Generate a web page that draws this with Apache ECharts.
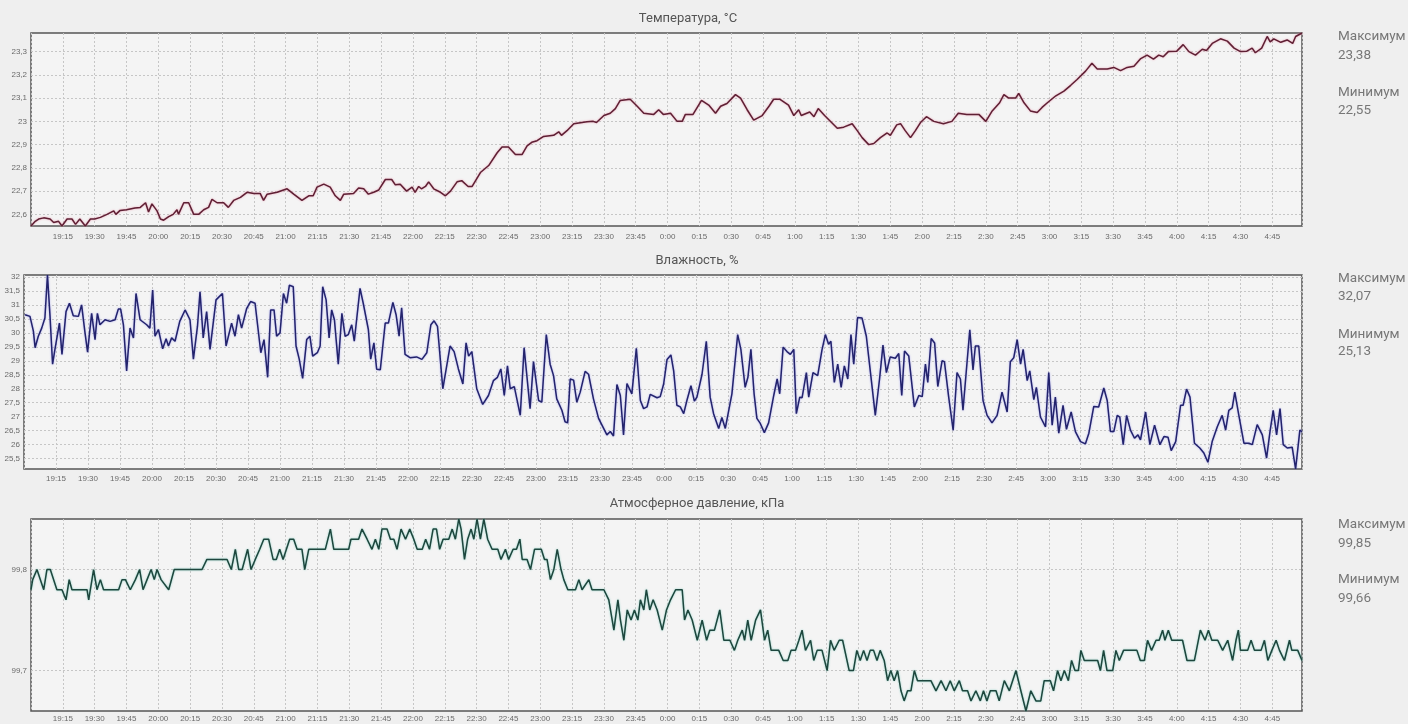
<!DOCTYPE html>
<html><head><meta charset="utf-8">
<script src="https://cdn.jsdelivr.net/npm/echarts@6/dist/echarts.min.js"></script>
<style>html,body{margin:0;padding:0;background:#efefef}#c{width:1408px;height:724px}</style>
</head><body><div id="c"></div>
<script>
// time = minutes after 19:00
const temperature = [[0,22.55],[2,22.57],[3.6,22.58],[6,22.585],[9,22.58],[10.7,22.565],[13,22.57],[14.6,22.55],[17,22.58],[19.3,22.58],[21,22.557],[23,22.58],[25.6,22.55],[28,22.58],[30,22.58],[32.7,22.587],[35.8,22.6],[39,22.615],[40,22.6],[42,22.617],[45,22.62],[49,22.627],[51.5,22.63],[54,22.65],[55.4,22.61],[57,22.645],[59.4,22.615],[61,22.58],[62.5,22.575],[64.9,22.59],[67,22.6],[68.8,22.62],[69.5,22.6],[72,22.65],[74.3,22.65],[76.7,22.6],[79,22.6],[81.4,22.62],[83.7,22.63],[85.3,22.665],[87.7,22.65],[90.8,22.65],[93,22.63],[95.5,22.66],[98.7,22.673],[101.8,22.695],[105,22.69],[108,22.69],[109.6,22.66],[111.3,22.687],[116,22.695],[120.7,22.71],[123.8,22.687],[127.7,22.66],[130.9,22.68],[133,22.68],[134.8,22.717],[138,22.73],[141,22.717],[143.4,22.68],[145.8,22.66],[147.4,22.687],[152,22.69],[154.4,22.713],[156.8,22.71],[159,22.687],[161.5,22.695],[163.9,22.705],[167,22.75],[170,22.75],[171.7,22.727],[174,22.73],[177,22.7],[179.6,22.717],[181,22.695],[182.7,22.72],[184,22.71],[185.9,22.72],[187.4,22.74],[189.8,22.71],[193,22.695],[195.3,22.68],[197.7,22.7],[200.8,22.74],[203,22.745],[206,22.72],[207.9,22.72],[211.8,22.78],[215.7,22.81],[219.7,22.865],[222,22.89],[225,22.89],[228.3,22.857],[231.4,22.857],[233.8,22.895],[236,22.91],[238.5,22.917],[241.6,22.935],[246.3,22.94],[248.7,22.955],[250,22.94],[252.6,22.96],[255.8,22.99],[262,22.998],[265,23],[266.5,22.995],[270,23.025],[273,23.035],[275.4,23.055],[277.7,23.09],[282.4,23.095],[285.7,23.065],[288.8,23.035],[293.5,23.03],[295.8,23.05],[298,23.03],[301.4,23.035],[304.5,23],[306.9,23],[308.4,23.03],[312,23.03],[316,23.09],[319.4,23.07],[322.6,23.035],[325,23.065],[328,23.077],[332,23.115],[334.4,23.1],[337.5,23.05],[340.6,23.005],[344.6,23.025],[347.8,23.065],[350,23.095],[353,23.095],[357,23.07],[359.5,23.025],[361.8,23.05],[363,23.025],[367,23.04],[369,23.02],[371,23.055],[374,23.025],[380,22.97],[383,22.975],[387,22.99],[389.4,22.96],[391.7,22.93],[394.8,22.9],[397.2,22.905],[400.3,22.93],[403.5,22.95],[405,22.94],[408,22.985],[409.8,22.99],[412,22.96],[414.5,22.93],[416.8,22.96],[419.2,22.995],[422,23.02],[425.5,23],[430,22.99],[434,23],[437,23.035],[441,23.03],[446.7,23.03],[450,23],[453,23.045],[456.5,23.08],[458.5,23.115],[460.8,23.1],[464,23.1],[465.5,23.12],[468,23.08],[471,23.045],[474.2,23.038],[476.5,23.06],[479,23.08],[483,23.11],[486.8,23.13],[490,23.155],[493,23.18],[497,23.216],[500,23.25],[502.5,23.225],[507.2,23.225],[510.3,23.232],[513.5,23.218],[516.6,23.232],[519.8,23.237],[523,23.27],[526,23.285],[529,23.268],[531.5,23.285],[533.6,23.278],[536,23.3],[540,23.302],[543,23.33],[545.7,23.3],[548.8,23.285],[552,23.31],[554,23.305],[556.7,23.335],[560.6,23.355],[563.8,23.345],[567,23.315],[570,23.3],[573,23.302],[575.5,23.315],[577,23.295],[580,23.315],[582.6,23.365],[584,23.342],[585.7,23.355],[589,23.34],[592,23.35],[594.6,23.335],[596,23.365],[599,23.38]];

const humidity = [[0.5,30.65],[2.8,30.59],[4.4,30.06],[5.2,29.47],[6.7,29.88],[8.3,30.17],[9.8,30.53],[11,32.07],[12.2,30.59],[13.4,28.88],[14.5,29.41],[16.6,30.35],[17.8,29.23],[19.7,30.76],[21.3,31.06],[23.1,30.61],[25.5,30.59],[27,31],[28.6,30],[29.8,29.31],[31.7,30.7],[33.3,29.76],[34.4,30.7],[35.6,30.29],[38,30.47],[40.3,30.41],[42.7,30.47],[44.2,30.85],[45.3,30.85],[46.6,30.29],[48.1,28.64],[49.7,30.17],[51.3,29.82],[52.5,31.41],[54.4,30.47],[57.5,30.29],[59,30.17],[60.3,31.53],[61.4,29.88],[63,30.12],[65,29.43],[66.6,29.79],[67.7,29.53],[69.2,29.82],[70.8,29.7],[73,30.41],[75.5,30.82],[77.8,30.47],[79.4,29.06],[81.3,30.23],[82.5,31.47],[84,29.82],[85.6,30.76],[87.2,29.41],[90,31.18],[93,31.41],[94.7,29.53],[97.3,30.35],[98.9,29.88],[100.5,30.65],[102,30.17],[104.4,30.88],[106.2,31.12],[108.3,31.06],[111,29.29],[112.5,29.76],[114.2,28.41],[115.6,30.82],[117.2,30.82],[118.4,29.88],[120,30],[121.6,31.41],[123.1,31.06],[124.4,31.71],[126.2,31.65],[127.5,29.53],[129,29.06],[130.6,28.37],[132.5,29.76],[134,29.88],[135.3,29.17],[137.5,29.29],[138.8,29.53],[140,31.65],[141.6,31.18],[143,29.82],[144.2,30.82],[145.5,30.47],[147.3,28.88],[149,30.7],[150.5,29.88],[152,29.94],[153.6,30.29],[154.8,29.7],[157.5,31.59],[159,31.06],[161.4,30.12],[162.5,29.06],[164,29.64],[165.3,28.7],[167,28.68],[169.3,30.35],[170.8,30.35],[172.9,31.09],[174.4,30.65],[175.8,29.88],[177,30.9],[178.6,29.23],[180.9,29.11],[184,29.14],[186.5,29.05],[188.8,29.29],[190.7,30.29],[192.2,30.43],[193.8,30.23],[196.3,28],[199.7,29.53],[201.6,29.33],[203.6,28.71],[205.7,28.17],[207.2,29.64],[208.4,29.17],[209.9,29.33],[212.2,28],[215,27.44],[217.7,27.76],[220,28.29],[221.9,28.41],[223.5,28.71],[225.1,27.76],[226.6,28.82],[227.9,28],[229.8,28.08],[232.6,27.05],[234.4,29.47],[237.2,27.29],[238.8,28.97],[241.2,27.58],[242.7,27.52],[244.8,29.94],[246.6,28.88],[248.2,28.47],[249.7,27.64],[252.1,27.23],[253.6,26.82],[254.8,26.78],[256,28.35],[257.6,28.31],[259.1,27.52],[260.7,27.88],[263,28.62],[264.6,28.52],[266.9,27.64],[269.3,26.94],[270.9,26.7],[273.2,26.35],[274.8,26.47],[276.3,26.31],[277.9,28.15],[279.5,27.76],[281,26.35],[282.6,28.19],[284.9,27.82],[287,29.45],[288.9,27.58],[290.4,27.29],[292,27.35],[293.5,27.8],[296.7,27.68],[298.2,27.72],[299.8,28.17],[301.4,29.05],[303.2,29.21],[304.5,28.64],[306,27.41],[307.6,27.35],[309.2,27.11],[310.7,27.58],[312.6,28.11],[314.2,27.56],[315.4,27.7],[317.8,28.52],[319.8,29.7],[321.6,27.7],[323.2,27.11],[325.6,26.58],[327.1,26.97],[328.7,26.58],[331.8,27.82],[334.5,29.94],[336,29.41],[338,28.05],[339.3,28.41],[340.7,29.41],[342.2,27.82],[343.5,26.94],[345.1,26.76],[347,26.43],[349,26.78],[351.4,27.76],[353,28.35],[354.2,27.82],[355.8,29.49],[357.6,29.33],[359.2,29.23],[360.8,29.41],[362,27.11],[363.6,27.7],[364.7,27.68],[366.7,28.58],[367.8,27.7],[369.8,28.58],[372,28.47],[374,29.38],[375.6,29.94],[377.1,29.59],[378.2,29.7],[379.8,28.23],[381.4,28.88],[383,28.05],[384.5,28.82],[386.1,28.35],[387.6,29.94],[388.9,28.88],[390.7,30.55],[392.8,30.53],[394.8,29.88],[397,28.41],[399,27.05],[401,28.35],[402.6,29.56],[404.2,28.58],[406,29.14],[408.4,29.09],[410,29.26],[411.4,27.76],[412.7,29.35],[414.7,29.17],[417.3,27.35],[419.4,27.76],[421,27.72],[422.5,28.88],[423.6,28.23],[425.2,29.8],[426.8,29.64],[428.3,28.08],[430.3,29],[431.4,28.97],[433.4,27.7],[435.5,26.52],[437.3,28.58],[438.9,28.35],[440.1,27.23],[443.3,30.11],[444.8,28.67],[445.9,29.53],[447.5,29.53],[449.5,27.58],[451.4,27.05],[453.7,26.78],[456.1,27.05],[458.4,27.88],[460.8,27.17],[462.3,28.97],[463.9,29.11],[465.5,29.76],[467.1,28.88],[468.3,29.41],[470.2,28.29],[471.4,28.64],[473.3,27.61],[474.5,28.05],[476.4,26.99],[478.8,26.64],[480.3,28.58],[481.9,26.7],[483.4,27.7],[485,26.41],[487,27.41],[488.6,26.55],[490.8,27.17],[492.8,26.47],[495.2,26.11],[497.5,26.03],[499.1,26.41],[501.4,27.37],[503.7,27.35],[506.1,28.03],[507.7,27.58],[509.2,26.47],[510.8,26.47],[512.4,27.05],[513.6,26.99],[515.2,26],[516.8,27.05],[518.6,26.52],[520.5,26.23],[522.1,26.35],[523.3,26.17],[525.7,27.17],[527.7,26],[529.9,26.7],[532.4,26],[534.3,26.29],[536.2,26.27],[537.7,25.79],[539.8,26.11],[542.1,27.41],[543.3,27.41],[544.9,27.99],[546.5,27.7],[548.6,26.05],[551.1,25.88],[553,25.7],[554.9,25.37],[556.9,26.11],[559.3,26.64],[561.6,27.05],[563.2,26.52],[564.7,27.23],[566.3,27.32],[567.5,27.88],[569.4,27.05],[571.8,26.05],[574.1,26.05],[575.7,26],[578,26.72],[580.4,26.35],[582.4,25.52],[584,26.47],[585.5,27.23],[587.1,26.35],[588.7,27.29],[590.2,26],[592.1,25.88],[594.4,25.91],[596,25.13],[598,26.52],[599,26.47]];

const pressure = [[0,99.78],[0.8,99.79],[2.8,99.8],[6,99.78],[7.5,99.8],[9.1,99.8],[12.2,99.78],[14.6,99.78],[16.5,99.77],[18,99.79],[19.3,99.78],[26.4,99.78],[27.2,99.77],[29.5,99.8],[31.1,99.78],[32.7,99.79],[34.2,99.78],[41.3,99.78],[42.9,99.79],[44.5,99.79],[46.8,99.78],[49.2,99.79],[51.2,99.8],[52.8,99.78],[54.7,99.79],[56.6,99.8],[58.1,99.79],[59.4,99.8],[61.3,99.79],[64.9,99.78],[67.5,99.8],[80.6,99.8],[82.9,99.81],[92.4,99.81],[94.4,99.8],[96.3,99.82],[97.9,99.8],[99.5,99.8],[102.1,99.82],[103.7,99.8],[105.7,99.81],[107.8,99.82],[109.7,99.83],[112,99.83],[114.1,99.81],[115.6,99.81],[117.2,99.82],[118.8,99.81],[121.9,99.83],[123.8,99.83],[125.4,99.82],[127.7,99.82],[129,99.8],[130.9,99.82],[138.7,99.82],[141.1,99.84],[142.7,99.82],[149.7,99.82],[150.8,99.83],[154.4,99.83],[156,99.84],[158.4,99.83],[160.7,99.82],[162.3,99.83],[163.9,99.82],[165.4,99.84],[167.8,99.84],[169.4,99.83],[171,99.83],[172.5,99.82],[174.4,99.84],[176.5,99.83],[178.5,99.84],[180.4,99.83],[182,99.82],[184.4,99.82],[186,99.83],[187.8,99.82],[189.5,99.84],[191.1,99.84],[192.6,99.82],[194.2,99.83],[196.9,99.83],[198.5,99.84],[200,99.83],[201.6,99.85],[202.7,99.84],[204.3,99.81],[205.8,99.83],[207.4,99.84],[208.7,99.83],[210.2,99.85],[211.8,99.83],[213.4,99.85],[215.2,99.83],[217.3,99.82],[220,99.82],[221.5,99.81],[223.6,99.82],[225.1,99.81],[227.2,99.82],[228.8,99.82],[230.4,99.83],[231.5,99.81],[233.8,99.81],[235.4,99.8],[237.3,99.82],[240.5,99.82],[242,99.81],[243.2,99.81],[244.8,99.79],[246.4,99.8],[248,99.82],[249.8,99.8],[251.1,99.79],[253,99.78],[256.6,99.78],[258.2,99.79],[259.7,99.78],[262.9,99.79],[264.4,99.78],[270,99.78],[272.3,99.77],[274.7,99.74],[276.6,99.77],[277.8,99.75],[279.4,99.73],[281,99.76],[282.8,99.75],[284.4,99.76],[286,99.75],[287.2,99.77],[288.8,99.76],[290,99.78],[291.6,99.76],[293.2,99.77],[295.1,99.76],[297.5,99.74],[299.5,99.76],[301.4,99.77],[303.8,99.78],[306.9,99.78],[308,99.75],[309.6,99.76],[311.6,99.75],[314,99.73],[316.3,99.75],[318.4,99.73],[319.9,99.74],[322.1,99.74],[324.6,99.76],[326.5,99.73],[329.4,99.73],[331.5,99.72],[333.1,99.73],[335.2,99.74],[336.3,99.73],[337.8,99.75],[339.4,99.73],[341.5,99.75],[343.8,99.76],[345.7,99.73],[347.2,99.74],[348.8,99.72],[352.4,99.72],[354.5,99.71],[356.7,99.71],[358.2,99.72],[360.3,99.72],[361.9,99.73],[363.4,99.74],[365,99.72],[367.4,99.73],[368.9,99.71],[370.5,99.72],[372.8,99.72],[375.2,99.7],[376.8,99.73],[378.5,99.72],[380.9,99.73],[382.5,99.73],[385.6,99.7],[387.6,99.7],[389.2,99.72],[390.8,99.71],[392.4,99.72],[394,99.71],[395.5,99.72],[397.1,99.72],[398.7,99.71],[400.2,99.72],[402.1,99.71],[403.7,99.69],[405.2,99.7],[406.8,99.69],[408.4,99.7],[410,99.68],[411.5,99.67],[413.1,99.68],[414.7,99.68],[416.3,99.7],[417.8,99.69],[424.1,99.69],[426.5,99.68],[428.9,99.69],[431.2,99.68],[433.2,99.69],[435.1,99.68],[437.5,99.69],[439,99.68],[441.4,99.68],[443,99.67],[445.3,99.68],[447.4,99.67],[448.9,99.68],[450.5,99.67],[452.1,99.68],[454.8,99.68],[456.3,99.67],[458.7,99.69],[461.1,99.68],[464.2,99.7],[466.5,99.68],[468.9,99.66],[471.2,99.68],[473.6,99.67],[475.9,99.67],[477.5,99.69],[480.4,99.69],[481.9,99.68],[483.8,99.7],[485.4,99.69],[487,99.7],[488.9,99.69],[490.4,99.71],[492,99.7],[493.6,99.7],[494.8,99.72],[496.4,99.71],[498,99.71],[502.7,99.71],[504,99.7],[505.5,99.72],[507.1,99.7],[509.8,99.7],[511.3,99.72],[512.9,99.71],[514.9,99.72],[521.2,99.72],[522.8,99.71],[524.7,99.71],[526.2,99.73],[528.1,99.72],[530.2,99.73],[531.7,99.73],[533.3,99.74],[534.4,99.73],[536,99.74],[537.6,99.73],[542.7,99.73],[544.8,99.71],[548.3,99.71],[551.1,99.74],[553.3,99.73],[554.9,99.74],[556.5,99.73],[559.3,99.73],[561.6,99.72],[564,99.73],[566.3,99.71],[567.9,99.73],[569,99.74],[570,99.72],[573.4,99.72],[575,99.73],[576.6,99.72],[579.7,99.72],[581.3,99.73],[582.9,99.71],[584.8,99.72],[586.8,99.73],[588.4,99.72],[590.7,99.71],[593.1,99.73],[594.2,99.72],[597,99.72],[599,99.71]];

const titles = ['Температура, °C', 'Влажность, %', 'Атмосферное давление, кПа'];
const tempTicks = [22.6, 22.7, 22.8, 22.9, 23, 23.1, 23.2, 23.3];
const humTicks = [25.5, 26, 26.5, 27, 27.5, 28, 28.5, 29, 29.5, 30, 30.5, 31, 31.5, 32];
const presTicks = [99.7, 99.8];
const yRanges = [[22.55, 23.38], [25.13, 32.07], [99.66, 99.85]];
const statNames = ['Максимум', 'Минимум'];
const statValues = [['23,38', '22,55'], ['32,07', '25,13'], ['99,85', '99,66']];
const timeStart = 0, timeEnd = 599, timeStep = 15; // minutes after 19:00

const grids = [
  {left: 31, top: 33, width: 1271, height: 193},
  {left: 24, top: 275, width: 1278, height: 194},
  {left: 31, top: 519, width: 1271, height: 192}
];
const labelMargins = [7, 6, 4];
const lineColors = [
  ['#5e2034', 'rgba(232,140,165,0.85)'],
  ['#23236c', 'rgba(110,110,235,0.6)'],
  ['#1e463d', 'rgba(100,195,180,0.75)']
];
const tickSets = [tempTicks, humTicks, presTicks];
const seriesData = [temperature, humidity, pressure];

function timeLabel(v) {
  const m = Math.round(v);
  const h = (19 + Math.floor(m / 60)) % 24;
  const mm = m % 60;
  return h + ':' + (mm < 10 ? '0' : '') + mm;
}
const gridLine = {show: true, lineStyle: {color: '#c6c6c6', width: 1, type: [2, 2]}};

const chart = echarts.init(document.getElementById('c'), null, {renderer: 'canvas'});
const option = {
  backgroundColor: '#efefef',
  animation: false,
  grid: grids.map(g => Object.assign({show: true, backgroundColor: '#f4f4f4', borderColor: '#555', borderWidth: 1.5}, g)),
  xAxis: grids.map((g, i) => ({
    type: 'value', gridIndex: i, min: timeStart, max: timeEnd, interval: timeStep,
    axisLine: {show: false}, axisTick: {show: false},
    axisLabel: {formatter: timeLabel, showMinLabel: false, showMaxLabel: false,
      fontSize: 8, color: '#6a6a6a', fontFamily: 'Liberation Sans', margin: labelMargins[i]},
    splitLine: gridLine
  })),
  yAxis: grids.map((g, i) => ({
    type: 'value', gridIndex: i, min: yRanges[i][0], max: yRanges[i][1],
    axisLine: {show: false},
    axisTick: {show: false, customValues: tickSets[i]},
    axisLabel: {customValues: tickSets[i], formatter: v => String(v).replace('.', ','),
      fontSize: 8, color: '#6a6a6a', fontFamily: 'Liberation Sans', margin: 4},
    splitLine: gridLine
  })),
  series: seriesData.map((d, i) => ({
    type: 'line', xAxisIndex: i, yAxisIndex: i, data: d, showSymbol: false, symbol: 'none',
    lineStyle: {color: lineColors[i][0], width: 1.5, shadowColor: lineColors[i][1], shadowBlur: 2},
    emphasis: {disabled: true}
  })),
  graphic: []
};
const titleX = [688, 697, 697];
const titleY = [19, 261, 504];
const statY = [[37, 56, 93, 111], [279, 297, 335, 352], [525, 544, 580, 599]];
titles.forEach((t, i) => {
  option.graphic.push({type: 'text', x: titleX[i], y: titleY[i], silent: true,
    style: {text: t, fill: '#555', font: '13px Roboto', textAlign: 'center', textVerticalAlign: 'middle'}});
  const ys = statY[i];
  const texts = [statNames[0], statValues[i][0], statNames[1], statValues[i][1]];
  texts.forEach((s, k) => option.graphic.push({type: 'text', x: 1338, y: ys[k], silent: true,
    style: {text: s, fill: '#777', font: '13.5px Roboto', textAlign: 'left', textVerticalAlign: 'middle'}}));
});
chart.setOption(option);
</script>
</body></html>
